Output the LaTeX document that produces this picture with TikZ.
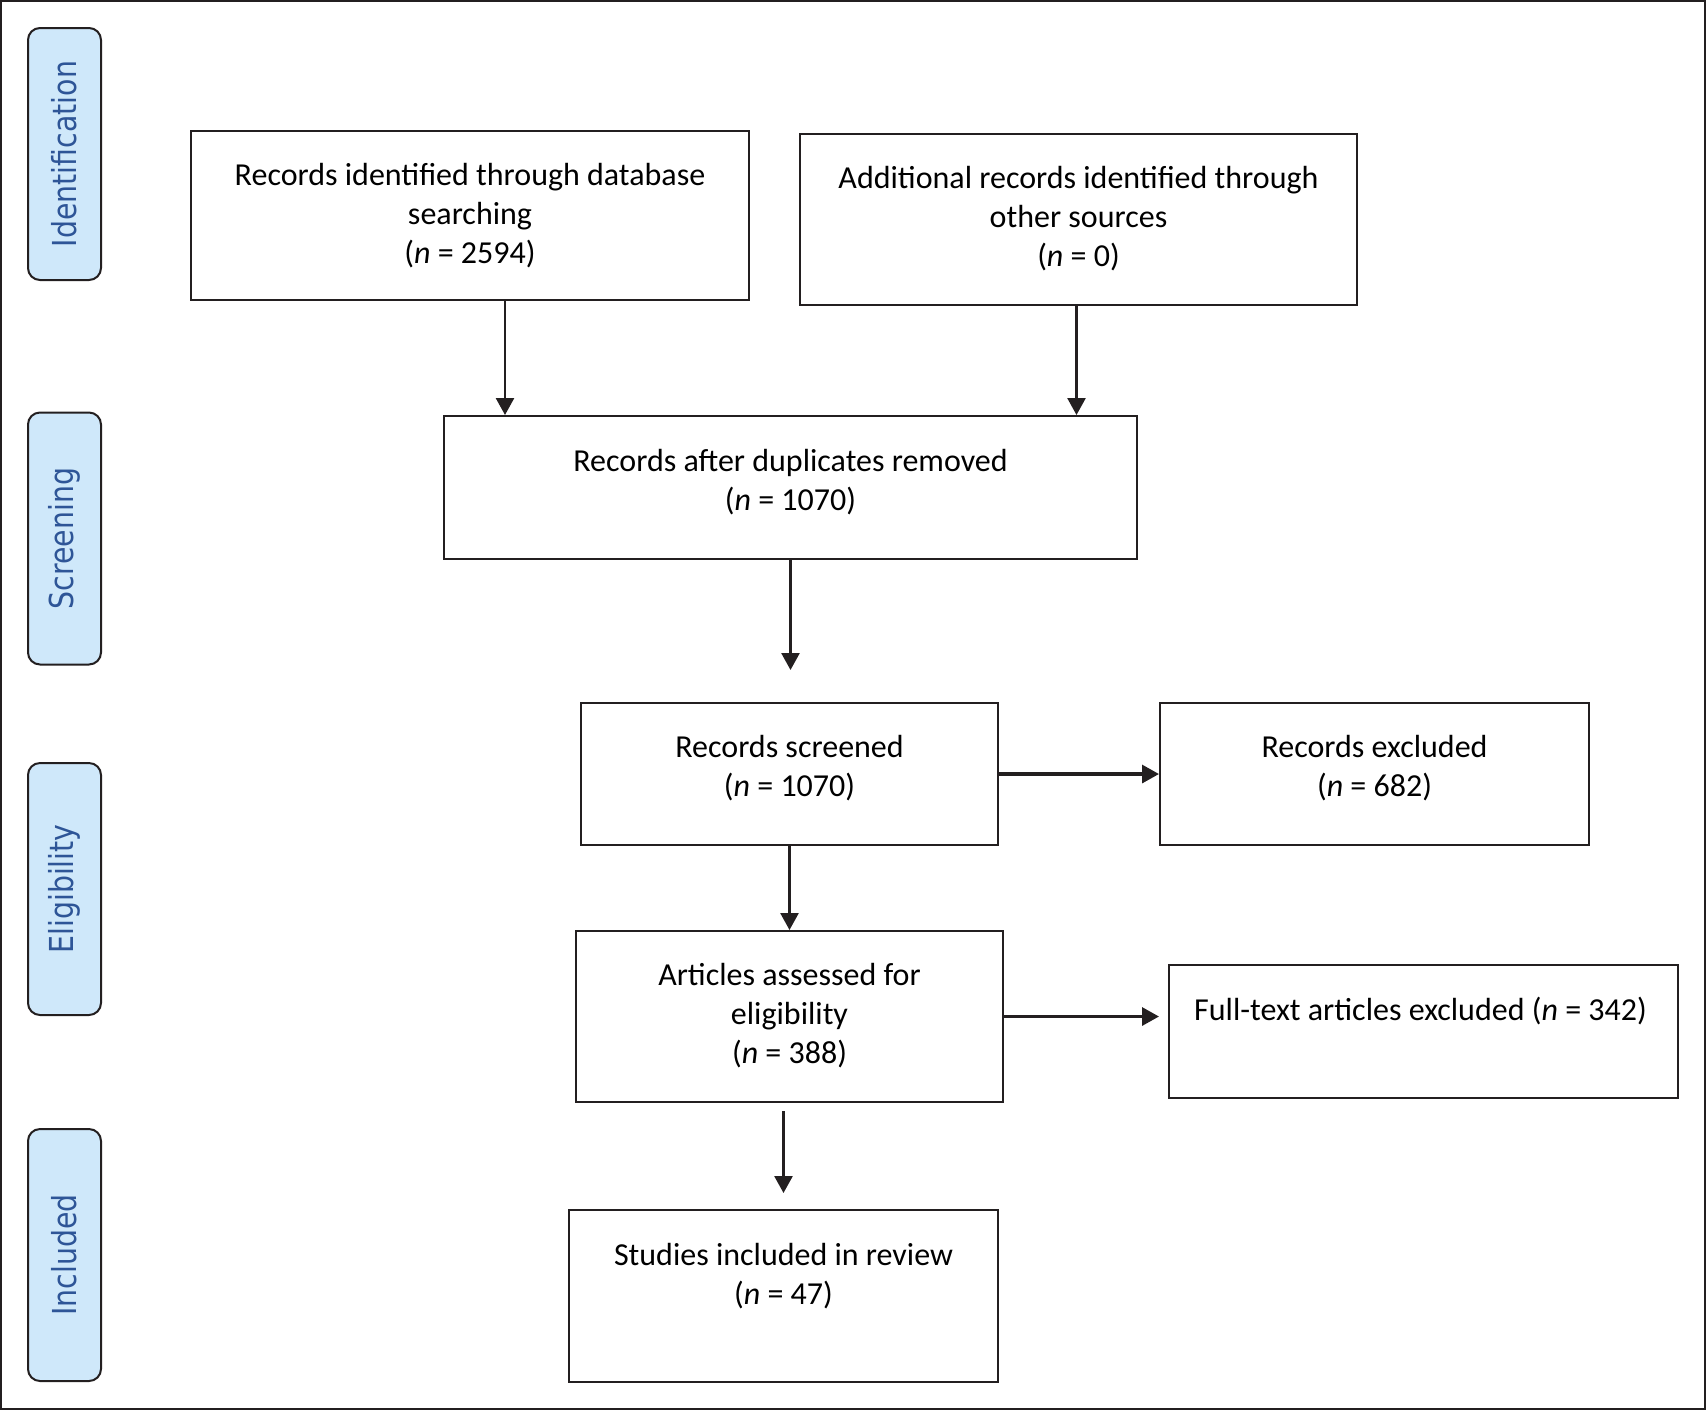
\documentclass[tikz,border=0pt]{standalone}
\usepackage{fontspec}
\setmainfont{Carlito}
\newfontfamily\sidefont[FakeStretch=0.86]{DejaVu Sans}
\usetikzlibrary{arrows.meta}
\definecolor{sidefill}{HTML}{CFE8FA}
\definecolor{sidetext}{HTML}{2E5597}
\definecolor{linec}{HTML}{231F20}
\begin{document}
\begin{tikzpicture}[x=0.5pt,y=-0.5pt,
  box/.style={draw=linec, line width=1pt, rectangle, inner sep=0pt, fill=white},
  txt/.style={align=center, inner sep=0pt, font=\fontsize{16}{19.5}\selectfont, text=black},
  side/.style={draw=linec, line width=1pt, fill=sidefill, rounded corners=6pt,
    minimum width=36.5pt, minimum height=126pt, inner sep=0pt},
  sidelab/.style={rotate=90, text=sidetext, font=\sidefont\fontsize{16.5}{18}\selectfont, inner sep=0pt},
  arr/.style={draw=linec, line width=1.3pt, -{Triangle[length=8.5pt,width=9pt]}},
  harr/.style={draw=linec, line width=1.6pt, -{Triangle[length=8.5pt,width=9pt]}}
]
\useasboundingbox (0,0) rectangle (1706,1410);
\draw[linec, line width=1pt] (1,1) rectangle (1705,1409);

% side labels
\node[side] (sid) at (64.5,154) {};
\node[sidelab] (sidt) at (sid.center) {Identification};
\node[side] (sscr) at (64.5,538.5) {};
\node[sidelab] (sscrt) at (sscr.center) {Screening};
\node[side] (selig) at (64.5,889) {};
\node[sidelab] (seligt) at (selig.center) {Eligibility};
\node[side] (sinc) at (64.5,1255) {};
\node[sidelab] (sinct) at (sinc.center) {Included};

% boxes
\node[box, minimum width=279pt, minimum height=84.5pt] (b1) at (470,215.5) {};
\node[txt] (t1) at ([yshift=0pt]b1.center) {Records identified through database\\searching\\(\textit{n} = 2594)};

\node[box, minimum width=278.5pt, minimum height=85.5pt] (b2) at (1078.5,219.5) {};
\node[txt] (t2) at ([yshift=0.5pt]b2.center) {Additional records identified through\\other sources\\(\textit{n} = 0)};

\node[box, minimum width=346.5pt, minimum height=71.5pt] (b3) at (790.5,487.5) {};
\node[txt] (t3) at ([yshift=2.75pt]b3.center) {Records after duplicates removed\\(\textit{n} = 1070)};

\node[box, minimum width=208.5pt, minimum height=71pt] (b4) at (789.5,774) {};
\node[txt] (t4) at ([yshift=3pt]b4.center) {Records screened\\(\textit{n} = 1070)};

\node[box, minimum width=214.5pt, minimum height=71pt] (b5) at (1374.5,774) {};
\node[txt] (t5) at ([yshift=3pt]b5.center) {Records excluded\\(\textit{n} = 682)};

\node[box, minimum width=213.5pt, minimum height=85.5pt] (b6) at (789.5,1016.5) {};
\node[txt] (t6) at ([yshift=0.5pt]b6.center) {Articles assessed for\\eligibility\\(\textit{n} = 388)};

\node[box, minimum width=254.5pt, minimum height=66.5pt] (b7) at (1423.5,1031.5) {};
\node[txt] (t7) at ([yshift=10.25pt,xshift=-1.5pt]b7.center) {Full-text articles excluded (\textit{n} = 342)};

\node[box, minimum width=214.5pt, minimum height=86pt] (b8) at (783.5,1296) {};
\node[txt] (t8) at ([yshift=10pt]b8.center) {Studies included in review\\(\textit{n} = 47)};

% connectors
\coordinate (c1) at ([xshift=17.5pt]b1.south);
\draw[arr] (c1) -- (c1 |- b3.north);
\coordinate (c2) at ([xshift=-1pt]b2.south);
\draw[arr] (c2) -- (c2 |- b3.north);
\coordinate (c3) at ([yshift=16pt]b4.north);
\draw[arr] (b3.south) -- (b3.south |- c3);
\draw[harr] (b4.east) -- (b5.west);
\draw[arr] (b4.south) -- (b6.north);
\coordinate (c6) at ([xshift=-4.5pt]b7.west);
\draw[harr] (b6.east) -- (c6 |- b6.east);
\coordinate (c7s) at ([yshift=-4pt]b6.south);
\coordinate (c7e) at ([yshift=8pt]b8.north);
\draw[arr] (c7s -| c7e) -- (c7e);
\end{tikzpicture}
\end{document}
